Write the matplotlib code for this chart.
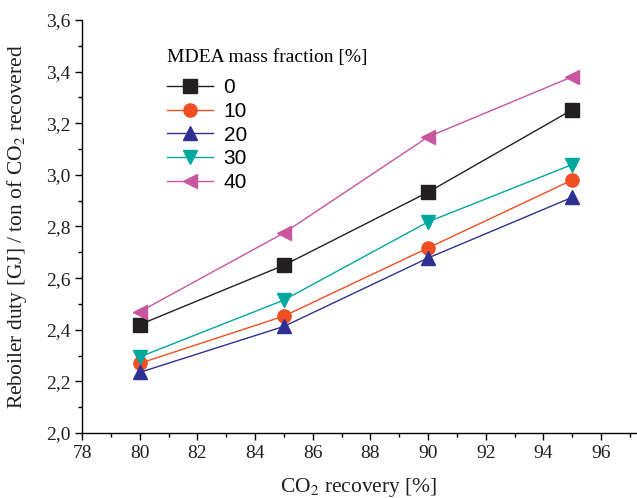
import matplotlib
matplotlib.use("Agg")
import matplotlib.pyplot as plt
from matplotlib.ticker import MultipleLocator, FuncFormatter

plt.rcParams["mathtext.fontset"] = "stix"

recovery = [80, 85, 90, 95]
series_labels = ["0", "10", "20", "30", "40"]
duty_0 = [2.42, 2.65, 2.933, 3.252]
duty_10 = [2.27, 2.453, 2.717, 2.98]
duty_20 = [2.235, 2.413, 2.678, 2.913]
duty_30 = [2.295, 2.515, 2.818, 3.04]
duty_40 = [2.47, 2.775, 3.147, 3.38]

series = [duty_0, duty_10, duty_20, duty_30, duty_40]
colors = ["#231f20", "#f04e23", "#2e3192", "#00a79d", "#c9559f"]
markers = ["s", "o", "^", "v", "<"]

serif = ["Liberation Serif", "DejaVu Serif"]
sans = ["Liberation Sans", "DejaVu Sans"]

fig = plt.figure(figsize=(6.37, 4.98), dpi=100)
ax = fig.add_axes([0.129, 0.1305, 0.869, 0.8295])

for y, c, m, lab in zip(series, colors, markers, series_labels):
    ax.plot(recovery, y, color=c, marker=m, markersize=9.5, linewidth=1.0,
            label=lab, markeredgecolor=c)

ax.set_xlim(78, 97.2)
ax.set_ylim(2.0, 3.6)
ax.xaxis.set_major_locator(MultipleLocator(2))
ax.xaxis.set_minor_locator(MultipleLocator(1))
ax.yaxis.set_major_locator(MultipleLocator(0.2))
ax.yaxis.set_minor_locator(MultipleLocator(0.1))
ax.yaxis.set_major_formatter(FuncFormatter(lambda v, p: f"{v:.1f}".replace(".", ",")))
ax.xaxis.set_major_formatter(FuncFormatter(lambda v, p: f"{v:.0f}"))

for s in ["top", "right"]:
    ax.spines[s].set_visible(False)
for s in ["left", "bottom"]:
    ax.spines[s].set_linewidth(1.0)
ax.tick_params(which="major", direction="out", length=5, width=1.0, labelsize=14)
ax.tick_params(which="minor", direction="out", length=3, width=1.0)
for t in ax.get_xticklabels() + ax.get_yticklabels():
    t.set_family(serif)
    t.set_color("#231f20")

ax.set_xlabel("CO$_2$ recovery [%]", fontsize=15.5, family=serif, color="#231f20",
              labelpad=10)
ax.set_ylabel("Reboiler duty [GJ] / ton of CO$_2$ recovered", fontsize=15.5,
              family=serif, color="#231f20", labelpad=12)

leg = ax.legend(loc="upper left", bbox_to_anchor=(0.12, 0.975), frameon=False,
                title="MDEA mass fraction [%]", prop={"family": sans, "size": 15},
                handlelength=2.2, handletextpad=0.5, labelspacing=0.22,
                alignment="left")
leg.get_title().set_family(serif)
leg.get_title().set_fontsize(14)
leg._legend_box.sep = 9

fig.savefig("out.png", dpi=100)
